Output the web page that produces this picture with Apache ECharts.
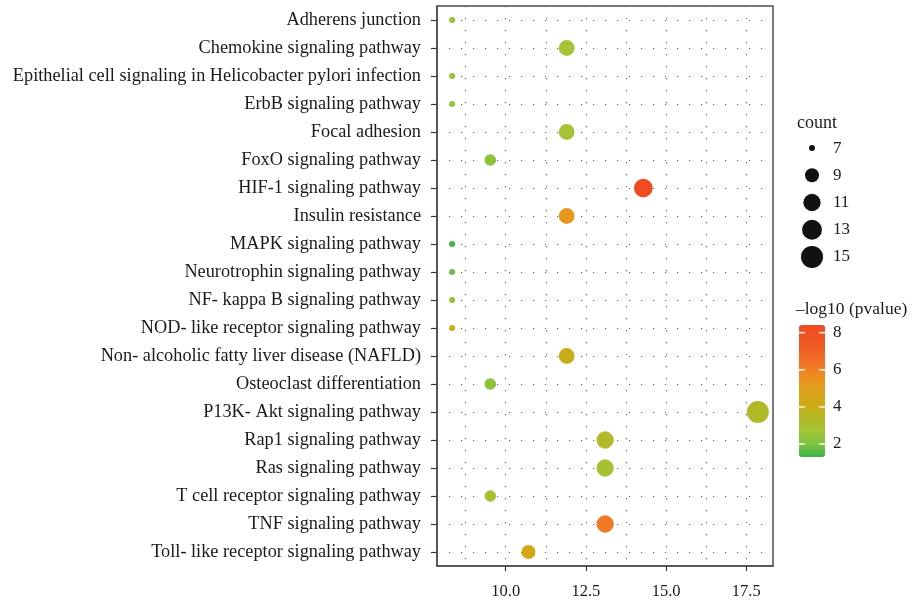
<!DOCTYPE html>
<html>
<head>
<meta charset="utf-8">
<script src="https://cdn.jsdelivr.net/npm/echarts@6/dist/echarts.min.js"></script>
<style>
html,body{margin:0;padding:0;background:#fff;}
#chart{width:914px;height:603px;}
</style>
</head>
<body>
<div id="chart"></div>
<script>
// ---- data ----
const pathways = [
  'Adherens junction',
  'Chemokine signaling pathway',
  'Epithelial cell signaling in Helicobacter pylori infection',
  'ErbB signaling pathway',
  'Focal adhesion',
  'FoxO signaling pathway',
  'HIF-1 signaling pathway',
  'Insulin resistance',
  'MAPK signaling pathway',
  'Neurotrophin signaling pathway',
  'NF- kappa B signaling pathway',
  'NOD- like receptor signaling pathway',
  'Non- alcoholic fatty liver disease (NAFLD)',
  'Osteoclast differentiation',
  'P13K- Akt signaling pathway',
  'Rap1 signaling pathway',
  'Ras signaling pathway',
  'T cell receptor signaling pathway',
  'TNF signaling pathway',
  'Toll- like receptor signaling pathway'
];
const ratio = [8.33, 11.90, 8.33, 8.33, 11.90, 9.52, 14.29, 11.90, 8.33, 8.33,
               8.33, 8.33, 11.90, 9.52, 17.86, 13.10, 13.10, 9.52, 13.10, 10.71];
const counts = [7, 10, 7, 7, 10, 8, 12, 10, 7, 7, 7, 7, 10, 8, 15, 11, 11, 8, 11, 9];
const logP = [2.5, 2.8, 2.5, 2.5, 2.8, 2.2, 8.4, 5.3, 1.3, 1.8,
              2.3, 3.9, 4.0, 2.2, 3.3, 3.35, 2.85, 2.9, 6.2, 4.3];
const xTicks = [10, 12.5, 15, 17.5];
const xGrid = [8.75, 10, 11.25, 12.5, 13.75, 15, 16.25, 17.5];
const sizeLegend = ['7', '9', '11', '13', '15'];
const colorTicks = [2, 4, 6, 8];
const colorStops = ['#3cb54a', '#7fc241', '#a3c436', '#b5b726', '#cdab16', '#dea01b',
                    '#ec901f', '#f27626', '#f16226', '#f05424', '#f04b23'];

// ---- chart ----
const FONT = 'Liberation Serif';
const TXT = '#1a1a1a';
function sz(c) { return 6 + 16 * Math.sqrt((c - 7) / 8); }

const mainData = pathways.map((p, i) => [ratio[i], p, logP[i], counts[i]]);
const dotStyle = { type: [1.2, 10.8], color: '#666', width: 1.2 };
const barTicks = [];
colorTicks.forEach(t => { barTicks.push([0, t]); barTicks.push([1, t]); });

const chart = echarts.init(document.getElementById('chart'), null, { renderer: 'canvas' });
chart.setOption({
  animation: false,
  backgroundColor: '#fff',
  textStyle: { fontFamily: FONT },
  grid: [
    { left: 437, top: 6, width: 336, height: 560, show: true, borderColor: '#4d4d4d', borderWidth: 1.5, backgroundColor: '#fff' },
    { left: 800, top: 134.5, width: 24, height: 136 },
    { left: 799, top: 325, width: 26, height: 132 }
  ],
  xAxis: [
    {
      gridIndex: 0, type: 'value', min: 7.857, max: 18.333,
      axisLine: { show: true, lineStyle: { color: '#4d4d4d', width: 1.5 } },
      axisTick: { show: true, length: 5, customValues: xTicks, lineStyle: { color: '#333', width: 1.2 } },
      axisLabel: { customValues: xTicks, margin: 17, fontSize: 16.5, color: TXT, fontFamily: FONT,
                   formatter: v => Number(v).toFixed(1) },
      splitLine: { show: false }
    },
    { gridIndex: 1, type: 'value', min: 0, max: 1, show: false },
    { gridIndex: 2, type: 'value', min: 0, max: 1, show: false }
  ],
  yAxis: [
    {
      gridIndex: 0, type: 'category', data: pathways, inverse: true,
      axisLine: { show: true, lineStyle: { color: '#4d4d4d', width: 1.5 } },
      axisTick: { show: true, alignWithLabel: true, length: 6, lineStyle: { color: '#333', width: 1.2 } },
      axisLabel: { margin: 16, fontSize: 18.3, color: TXT, fontFamily: FONT },
      splitLine: { show: false }
    },
    {
      gridIndex: 1, type: 'category', data: sizeLegend, inverse: true, position: 'right',
      axisLine: { show: false }, axisTick: { show: false },
      axisLabel: { margin: 9, fontSize: 17, color: TXT, fontFamily: FONT }
    },
    {
      gridIndex: 2, type: 'value', min: 1.3, max: 8.41, position: 'right',
      axisLine: { show: false },
      axisTick: { show: false },
      axisLabel: { customValues: colorTicks, margin: 8, fontSize: 17, color: TXT, fontFamily: FONT },
      splitLine: { show: false }
    }
  ],
  visualMap: [{
    type: 'continuous', seriesIndex: 0, dimension: 2, min: 1.3, max: 8.41,
    left: 799, top: 325, itemWidth: 26, itemHeight: 132, padding: 0,
    calculable: false, hoverLink: false, orient: 'vertical',
    inRange: { color: colorStops }, text: null, z: 1
  }],
  graphic: [
    { type: 'text', left: 797, top: 114, silent: true,
      style: { text: 'count', font: '18px "Liberation Serif"', fill: TXT } },
    { type: 'text', left: 796, top: 300, silent: true,
      style: { text: '\u2013log10 (pvalue)', font: '17.5px "Liberation Serif"', fill: TXT } }
  ],
  series: [
    {
      type: 'scatter', xAxisIndex: 0, yAxisIndex: 0, z: 5,
      data: mainData,
      symbolSize: v => sz(v[3]),
      itemStyle: { opacity: 1 }
    },
    {
      type: 'scatter', xAxisIndex: 0, yAxisIndex: 0, z: 2, data: [],
      silent: true,
      markLine: {
        silent: true, symbol: 'none', label: { show: false },
        lineStyle: dotStyle,
        data: xGrid.map(v => ({ xAxis: v })).concat(pathways.map(p => ({ yAxis: p })))
      }
    },
    {
      type: 'scatter', xAxisIndex: 1, yAxisIndex: 1, z: 5,
      data: sizeLegend.map(s => [0.5, s]),
      symbolSize: v => sz(Number(v[1])),
      itemStyle: { color: '#111', opacity: 1 }
    },
    {
      type: 'scatter', xAxisIndex: 2, yAxisIndex: 2, data: barTicks, zlevel: 2, z: 10,
      symbol: 'rect', symbolSize: [12, 1.5], silent: true,
      itemStyle: { color: '#ffffff', opacity: 0.9 }
    }
  ]
});
</script>
</body>
</html>
